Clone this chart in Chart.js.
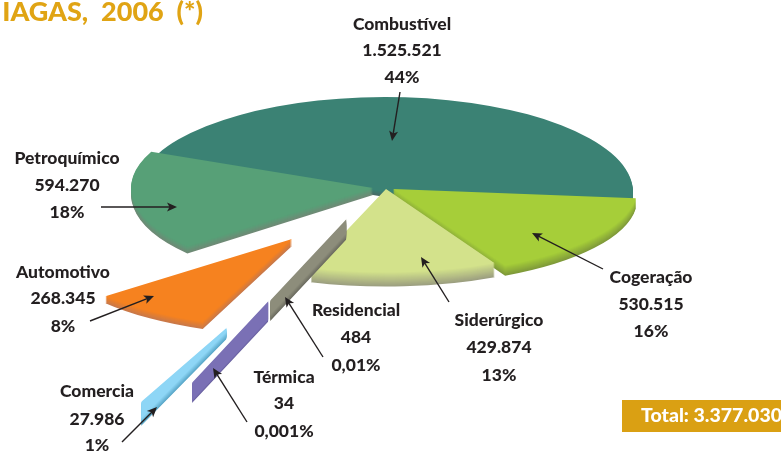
<!DOCTYPE html>
<html>
<head>
<meta charset="utf-8">
<style>html,body{margin:0;padding:0;background:#fff}canvas{display:block}</style>
<script src="https://cdn.jsdelivr.net/npm/chart.js@4"></script>
</head>
<body>
<canvas id="myChart" width="781" height="451"></canvas>
<script>
//Values
var categories = ["Combustível", "Cogeração", "Siderúrgico", "Residencial", "Térmica", "Comercia", "Automotivo", "Petroquímico"];
var values = [1525521, 530515, 429874, 484, 34, 27986, 268345, 594270];
var percents = ["44%", "16%", "13%", "0,01%", "0,001%", "1%", "8%", "18%"];
var colors = ["#3b8274", "#a6ce39", "#d3e28b", "#8d8d7b", "#7a70b5", "#8ed6f6", "#f6821f", "#57a077"];
var rimColors = ["#4a6b66", "#7f9a3a", "#9c9f80", "#6c6c60", "#6a62a0", "#5aa7c8", "#c9794a", "#6f8a76"];
var titleText = "IAGAS,  2006  (*)";
var totalText = "Total: 3.377.030";

//How each slice is pulled out of the pie: shift in px, radius factors, rim depth, strip width
var look = [
    {dx: 0, dy: 0, sx: 1, sy: 1, depth: 5},
    {dx: 8, dy: -3, sx: 0.985, sy: 0.91, depth: 10},
    {dx: 1, dy: -3, sx: 0.955, sy: 0.88, depth: 14},
    {dx: -29, dy: 24, sx: 1.25, sy: 1.17, depth: 6, strip: 10, from: 0.1, to: 0.87},
    {dx: -107, dy: 108, sx: 1.25, sy: 1.17, depth: 2, strip: 13, from: 0.1, to: 0.87},
    {dx: -148, dy: 128, sx: 1.25, sy: 1.116, depth: 7, strip: 2, from: 0.1, to: 0.9},
    {dx: -93, dy: 47, sx: 0.98, sy: 0.94, depth: 7},
    {dx: -12, dy: -4, sx: 0.975, sy: 0.96, depth: 7}
];
var drawOrder = [0, 7, 1, 2, 3, 5, 4, 6];
var squash = 0.383;

//Text blocks [center x, y of the three lines] in category order
var labelPos = [
    [402, 24, 50, 77],
    [651, 277, 304, 331],
    [499, 320, 347, 375],
    [356, 310, 337, 365],
    [284, 377, 403, 431],
    [97, 391, 419, 445],
    [63, 272, 298, 326],
    [67, 158, 185, 212]
];
//Arrows [tail x, tail y, tip x, tip y]
var arrows = [
    [400, 92, 392, 141],
    [603, 269, 532, 233],
    [449, 302, 421, 257],
    [323, 357, 285, 297],
    [247, 422, 213, 368],
    [122, 442, 157, 407],
    [90, 321, 154, 296],
    [101, 207, 177, 207]
];

function mix(a, b, t){
    var pa = parseInt(a.slice(1), 16);
    var pb = parseInt(b.slice(1), 16);
    var out = [16, 8, 0].map(function(s){
        var ca = (pa >> s) & 255;
        var cb = (pb >> s) & 255;
        return Math.round(ca + (cb - ca) * t);
    });
    return "rgb(" + out.join(",") + ")";
}

function drawSlice(ctx, arc, i){
    var l = look[i];
    var orig = arc.options;
    for (var d = l.depth; d >= 0; d--) {
        var t = l.depth ? d / l.depth : 0;
        var c = mix(colors[i], rimColors[i], t);
        arc.options = Object.assign({}, orig, {
            backgroundColor: c,
            borderColor: c,
            borderWidth: l.strip || 0,
            offset: 0
        });
        ctx.save();
        if (l.strip) {
            //strips end on vertical cuts, as in the picture
            var mid = (arc.startAngle + arc.endAngle) / 2;
            var reach = Math.cos(mid) * arc.outerRadius * l.sx;
            var xa = arc.x + l.dx + reach * l.to;
            var xb = arc.x + l.dx + reach * l.from;
            ctx.beginPath();
            ctx.rect(xa, 0, xb - xa, 451);
            ctx.clip();
        }
        ctx.translate(arc.x + l.dx, arc.y + l.dy + d);
        ctx.scale(l.sx, l.sy * squash);
        ctx.translate(-arc.x, -arc.y);
        arc.draw(ctx);
        ctx.restore();
    }
    arc.options = orig;
}

function drawArrow(ctx, a){
    var ang = Math.atan2(a[3] - a[1], a[2] - a[0]);
    ctx.strokeStyle = "#231f20";
    ctx.fillStyle = "#231f20";
    ctx.lineWidth = 1.4;
    ctx.beginPath();
    ctx.moveTo(a[0], a[1]);
    ctx.lineTo(a[2] - Math.cos(ang) * 6, a[3] - Math.sin(ang) * 6);
    ctx.stroke();
    ctx.save();
    ctx.translate(a[2], a[3]);
    ctx.rotate(ang);
    ctx.beginPath();
    ctx.moveTo(0, 0);
    ctx.lineTo(-10, -4.5);
    ctx.lineTo(-7.5, 0);
    ctx.lineTo(-10, 4.5);
    ctx.closePath();
    ctx.fill();
    ctx.restore();
}

var pie3d = {
    id: "pie3d",
    beforeDatasetsDraw: function(chart){
        var ctx = chart.ctx;
        var arcs = chart.getDatasetMeta(0).data;
        drawOrder.forEach(function(i){
            drawSlice(ctx, arcs[i], i);
        });
        return false;
    },
    afterDraw: function(chart){
        var ctx = chart.ctx;
        arrows.forEach(function(a){
            drawArrow(ctx, a);
        });

        ctx.save();
        ctx.textBaseline = "middle";
        ctx.textAlign = "center";
        ctx.fillStyle = "#231f20";
        ctx.font = "900 17.5px Lato";
        categories.forEach(function(name, i){
            var p = labelPos[i];
            var num = String(values[i]).replace(/\B(?=(\d{3})+$)/g, ".");
            ctx.fillText(name, p[0], p[1]);
            ctx.fillText(num, p[0], p[2]);
            ctx.fillText(percents[i], p[0], p[3]);
        });

        ctx.fillStyle = "#e0a414";
        ctx.font = "900 27px Lato";
        ctx.textAlign = "right";
        ctx.fillText(titleText, 203, 12);

        ctx.fillStyle = "#daa013";
        ctx.fillRect(622, 400, 159, 32);
        ctx.fillStyle = "#fff";
        ctx.font = "900 19.5px Lato";
        ctx.fillText(totalText, 782, 416);
        ctx.restore();
    }
};

new Chart("myChart", {
    type: "pie",
    data: {
        labels: categories,
        datasets: [{
            data: values,
            backgroundColor: colors,
            borderWidth: 0
        }]
    },
    options: {
        responsive: false,
        animation: false,
        rotation: 293.5,
        radius: 248,
        layout: {padding: {right: 11, bottom: 67}},
        plugins: {legend: {display: false}, tooltip: {enabled: false}}
    },
    plugins: [pie3d]
});
</script>
</body>
</html>
